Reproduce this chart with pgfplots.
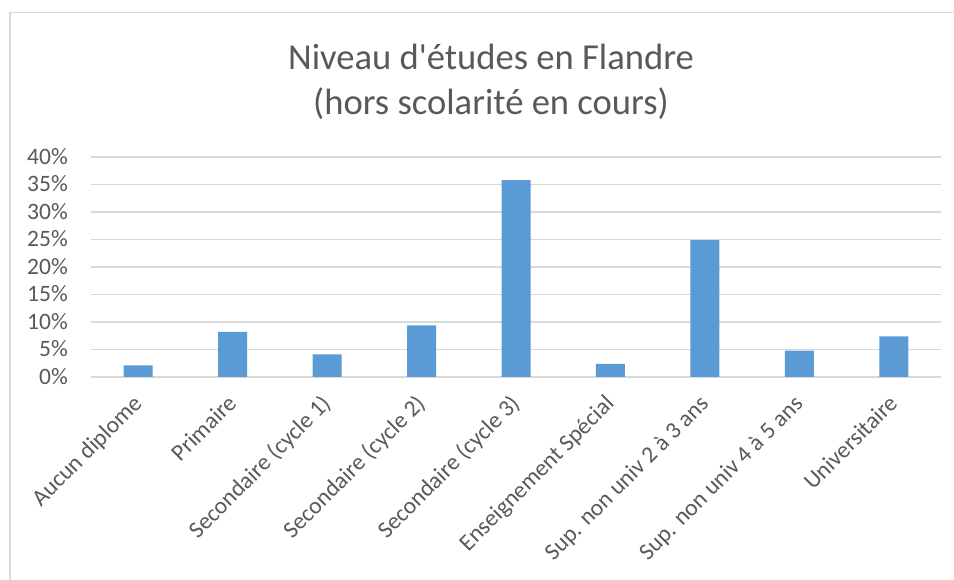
\documentclass[border=0pt]{standalone}
\usepackage{fontspec}
\setmainfont{Carlito}[Ligatures=TeXOff]
\usepackage{pgfplots}
\pgfplotsset{compat=1.18}
\definecolor{barblue}{HTML}{5B9BD5}
\definecolor{gridgray}{HTML}{D9D9D9}
\definecolor{txtgray}{HTML}{595959}
\begin{document}
\begin{tikzpicture}
\useasboundingbox (-91pt,-203pt) rectangle (863pt,377pt);
\fill[white] (-91pt,-203pt) rectangle (863pt,377pt);
\draw[gridgray, line width=1.3pt] (-81pt,-203pt) -- (-81pt,364.5pt) -- (863pt,364.5pt);
\begin{axis}[
  at={(0pt,0pt)}, anchor=south west,
  scale only axis,
  width=850pt, height=220pt,
  xmin=0.5, xmax=9.5,
  ymin=0, ymax=40,
  ytick={0,5,...,40},
  xtick={1,...,9},
  xticklabels={{Aucun diplome},{Primaire},{Secondaire (cycle 1)},{Secondaire (cycle 2)},{Secondaire (cycle 3)},{Enseignement Spécial},{Sup. non univ 2 à 3 ans},{Sup. non univ 4 à 5 ans},{Universitaire}},
  yticklabel={\pgfmathprintnumber{\tick}\%},
  /pgf/number format/assume math mode=true,
  axis line style={draw=none},
  major tick length=0pt,
  ymajorgrids,
  grid style={gridgray, line width=1.3pt},
  tick label style={text=txtgray, font=\fontsize{23.5}{28}\selectfont, inner sep=0pt},
  yticklabel style={anchor=base east, xshift=-23pt, yshift=-7.4pt},
  xticklabel style={xshift=5pt, yshift=-28pt, rotate=45, anchor=base east},
  clip=false,
]
\addplot[ybar, bar width=29pt, fill=barblue, draw=none] coordinates {
 (1,2.1) (2,8.2) (3,4.1) (4,9.4) (5,35.8) (6,2.4) (7,24.9) (8,4.8) (9,7.4)
};
\end{axis}
\node[anchor=base, text=txtgray, font=\fontsize{36.6}{44}\selectfont, inner sep=0pt] at (400pt,307pt) {Niveau d'études en Flandre};
\node[anchor=base, text=txtgray, font=\fontsize{36.6}{44}\selectfont, inner sep=0pt] at (400pt,262pt) {(hors scolarité en cours)};
\end{tikzpicture}
\end{document}
